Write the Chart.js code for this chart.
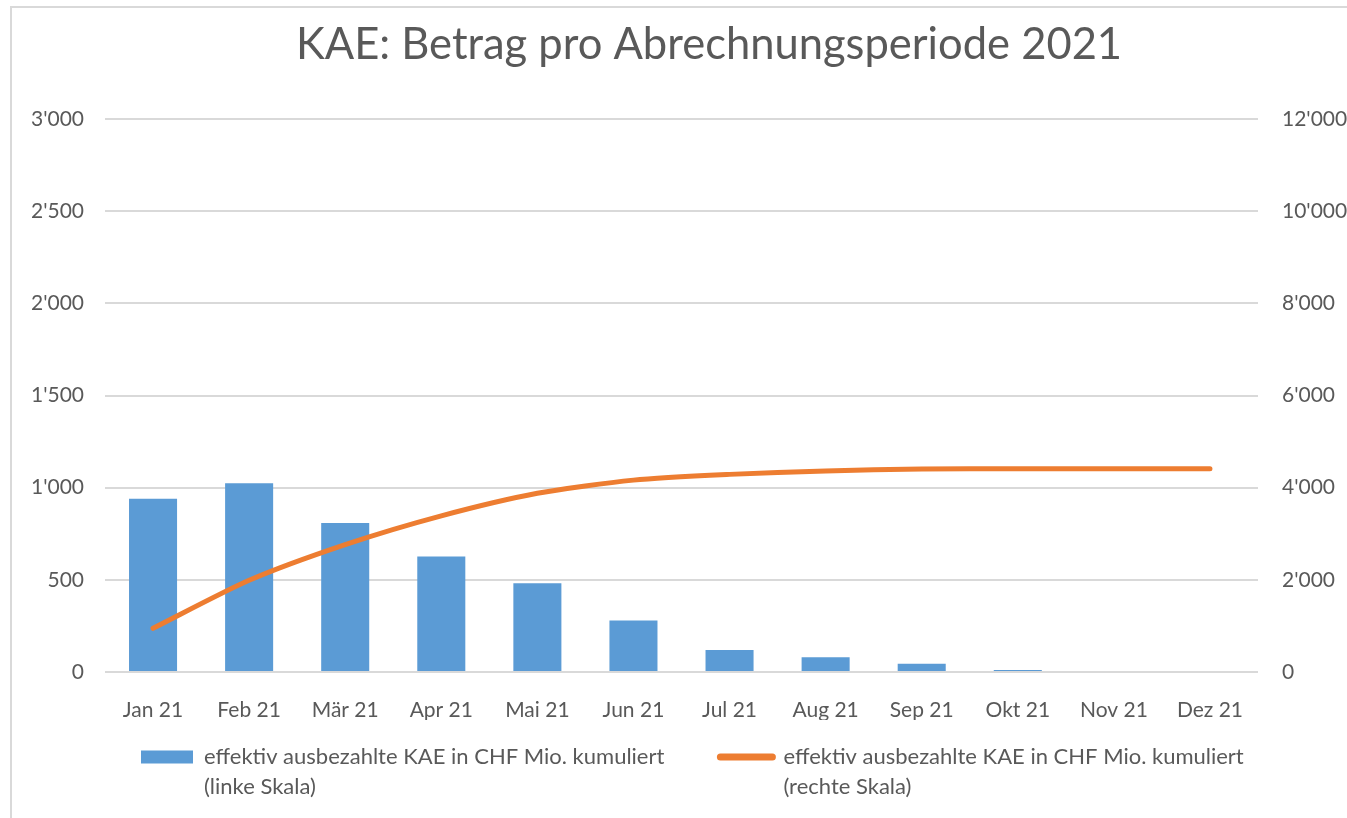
<!DOCTYPE html>
<html>
<head>
<meta charset="utf-8">
<script src="https://cdn.jsdelivr.net/npm/chart.js@4/dist/chart.umd.min.js"></script>
<style>
  html, body { margin: 0; padding: 0; background: #ffffff; overflow: hidden; }
  #wrap { position: relative; width: 1347px; height: 818px; }
  #frame { position: absolute; left: 10px; top: 6px; width: 1337px; height: 812px;
           border-left: 2px solid #d9d9d9; border-top: 2px solid #d9d9d9; pointer-events: none; box-sizing: border-box; }
  canvas { position: absolute; left: 0; top: 0; }
</style>
</head>
<body>
<div id="wrap">
  <canvas id="c" width="1347" height="818"></canvas>
  <div id="frame"></div>
</div>
<script>
// ---- data ----
const chartTitle = 'KAE: Betrag pro Abrechnungsperiode 2021';
const months = ['Jan 21', 'Feb 21', 'Mär 21', 'Apr 21', 'Mai 21', 'Jun 21', 'Jul 21', 'Aug 21', 'Sep 21', 'Okt 21', 'Nov 21', 'Dez 21'];
const monthlyPaid = [940, 1024, 808, 627, 481, 280, 119, 80, 45, 11, 0, 0];
const cumulativePaid = [948, 1990, 2765, 3390, 3880, 4165, 4290, 4365, 4405, 4410, 4410, 4410];
const barLabel = ['effektiv ausbezahlte KAE in CHF Mio. kumuliert', '(linke Skala)'];
const lineLabel = ['effektiv ausbezahlte KAE in CHF Mio. kumuliert', '(rechte Skala)'];
const leftMin = 0, leftMax = 3000, leftStep = 500;
const rightMin = 0, rightMax = 12000, rightStep = 2000;

// ---- styling ----
const FONT = 'Lato';
const TEXT = '#595959';
const BLUE = '#5B9BD5';
const ORANGE = '#ED7D31';
const GRID = '#d9d9d9';
const legendFontSize = 22;
const boxW = 52;
const legendGap = 56;          // space between the two legend entries
const legendStartX = 141;      // left edge of first legend marker
const legendFirstLineY = 757;  // centre of the first legend text line
const titleCenterX = 709;

function fmt(v) {
  return String(v).replace(/\B(?=(\d{3})+(?!\d))/g, "'");
}

// multi-line legend text: make horizontal legend measure the longest line only
function multiLine(lines) {
  const arr = lines.slice();
  const longest = arr.reduce((a, b) => (a.length >= b.length ? a : b));
  arr.toString = function () { return longest; };
  return arr;
}

const placeBlocks = {
  id: 'placeBlocks',
  afterLayout(chart) {
    const lg = chart.legend;
    if (lg && lg.lineWidths) {
      const P = lg.options.labels.padding;
      const x1 = (lg.left + P + lg.right - lg.lineWidths[0]) / 2;
      const dx = legendStartX - x1;
      lg.left += dx; lg.right += dx;
      lg.top = legendFirstLineY - legendFontSize / 2 - P;
      lg.bottom = chart.height;
      lg.height = lg.bottom - lg.top;
    }
    const t = chart.titleBlock;
    if (t) {
      const dx = titleCenterX - (t.left + t.right) / 2;
      t.left += dx; t.right += dx;
    }
  }
};

function draw() {
  new Chart(document.getElementById('c'), {
    data: {
      labels: months,
      datasets: [
        {
          type: 'bar',
          label: barLabel[0] + ' ' + barLabel[1],
          data: monthlyPaid,
          yAxisID: 'yL',
          backgroundColor: BLUE,
          borderWidth: 0,
          barPercentage: 0.5,
          categoryPercentage: 1.0,
          order: 1
        },
        {
          type: 'line',
          label: lineLabel[0] + ' ' + lineLabel[1],
          data: cumulativePaid,
          yAxisID: 'yR',
          borderColor: ORANGE,
          backgroundColor: ORANGE,
          borderWidth: 5,
          borderCapStyle: 'round',
          borderJoinStyle: 'round',
          pointRadius: 0,
          tension: 0.25,
          fill: false,
          order: 0
        }
      ]
    },
    plugins: [placeBlocks],
    options: {
      responsive: false,
      animation: false,
      devicePixelRatio: 1,
      layout: { padding: { left: 0, right: 0, top: 0, bottom: 10 } },
      plugins: {
        title: {
          display: true,
          text: chartTitle,
          color: TEXT,
          font: { family: FONT, size: 43.5, weight: 'normal', lineHeight: 1.2 },
          padding: { top: 19, bottom: 48 }
        },
        legend: {
          display: true,
          position: 'bottom',
          align: 'center',
          labels: {
            usePointStyle: true,
            pointStyleWidth: boxW,
            boxHeight: 13,
            padding: legendGap,
            color: TEXT,
            font: { family: FONT, size: legendFontSize, lineHeight: 1.36 },
            generateLabels: function () {
              return [
                { text: multiLine(barLabel), fillStyle: BLUE, strokeStyle: BLUE, lineWidth: 0, pointStyle: 'rect', datasetIndex: 0, fontColor: TEXT },
                { text: multiLine(lineLabel), fillStyle: ORANGE, strokeStyle: ORANGE, lineWidth: 7, lineCap: 'round', pointStyle: 'line', datasetIndex: 1, fontColor: TEXT }
              ];
            }
          }
        },
        tooltip: { enabled: false }
      },
      scales: {
        x: {
          grid: { display: false },
          border: { display: false },
          ticks: { color: TEXT, font: { family: FONT, size: 21 }, padding: 18, maxRotation: 0, autoSkip: false },
          afterFit: function (s) { s.height = 48; }
        },
        yL: {
          type: 'linear',
          position: 'left',
          min: leftMin, max: leftMax,
          border: { display: false },
          grid: { color: GRID, lineWidth: 2, drawTicks: false },
          ticks: { stepSize: leftStep, color: TEXT, font: { family: FONT, size: 21 }, padding: 21, callback: fmt },
          afterFit: function (s) { s.width = 105; }
        },
        yR: {
          type: 'linear',
          position: 'right',
          min: rightMin, max: rightMax,
          border: { display: false },
          grid: { display: false, drawTicks: false },
          ticks: { stepSize: rightStep, color: TEXT, font: { family: FONT, size: 21 }, padding: 24, callback: fmt },
          afterFit: function (s) { s.width = 89; }
        }
      }
    }
  });
}

if (document.fonts && document.fonts.load) {
  Promise.all([
    document.fonts.load('21px Lato'),
    document.fonts.load('22px Lato'),
    document.fonts.load('43.5px Lato')
  ]).then(draw, draw);
} else {
  draw();
}
</script>
</body>
</html>
